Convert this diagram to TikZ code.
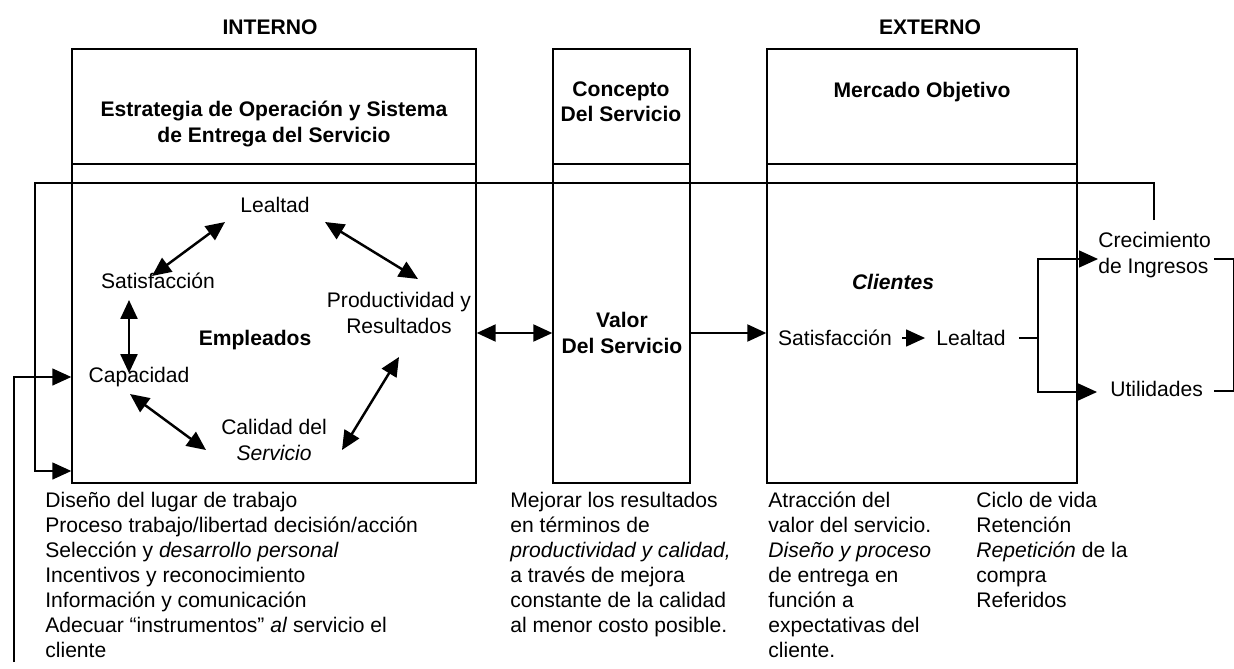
\documentclass[12pt,tikz,border=0pt]{standalone}
\usepackage{fontspec}
\setmainfont{Liberation Sans}
\usetikzlibrary{arrows.meta,positioning,fit,calc}

\begin{document}
\begin{tikzpicture}[x=0.02cm,y=-0.02cm,>={Triangle[length=0.38cm,width=0.34cm]},
  box/.style={draw,thick,inner sep=0pt},
  lbl/.style={align=center,inner sep=0pt},
  notes/.style={align=left,anchor=north west,inner sep=0pt,font=\fontsize{12}{14.2}\selectfont}]
\useasboundingbox (0,0) rectangle (1234,669);
\node[lbl,font=\bfseries] (interno) at (270,27) {INTERNO};
\node[lbl,font=\bfseries] (externo) at (930,27) {EXTERNO};
%%%%%%%%%%%%%%%%
\node[box,fit={(72,49) (476,483)}] (intbox) {};
\node[box,fit={(553,49) (690,483)}] (concbox) {};
\node[box,fit={(767,49) (1077,483)}] (mercbox) {};
\draw [thick] (intbox.west |- 0,164) -- (intbox.east |- 0,164);
\draw [thick] (concbox.west |- 0,164) -- (concbox.east |- 0,164);
\draw [thick] (mercbox.west |- 0,164) -- (mercbox.east |- 0,164);
\node[lbl,font=\bfseries] (estrategia) at (274,124)
{Estrategia de Operación y Sistema\\de Entrega del Servicio};
\node[lbl,font=\bfseries] (concepto) at (621,102) {Concepto\\Del Servicio};
\node[lbl,font=\bfseries] (mercado) at (922,92) {Mercado Objetivo};
%%%%%%%%%%%%%%%%
\node[lbl] (lealtad) at (275,205) {Lealtad};
\node[lbl] (satisf) at (158,281) {Satisfacción};
\node[lbl] (prod) at (399,313) {Productividad y\\Resultados};
\node[lbl,font=\bfseries] (empleados) at (255,340) {Empleados};
\node[lbl] (capac) at (139,377) {Capacidad};
\node[lbl] (calidad) at (274,440) {Calidad del\\\textit{Servicio}};
\draw [<->,line width=1.4pt] ($(satisf)+(-6,-5)$) -- ($(lealtad)+(-50,17)$);
\draw [<->,line width=1.4pt] ($(lealtad)+(50,17)$) -- ($(prod)+(19,-34)$);
\draw [<->,line width=1.4pt] ($(satisf)+(-29,19)$) -- ($(capac)+(-10,-4)$);
\draw [<->,line width=1.4pt] ($(capac)+(-9,17)$) -- ($(calidad)+(-68,10)$);
\draw [<->,line width=1.4pt] ($(calidad)+(68,10)$) -- ($(prod)+(0,44)$);
%%%%%%%%%%%%%%%%
\node[lbl,font=\bfseries] (valor) at (622,333) {Valor\\Del Servicio};
\draw [<->,very thick] (intbox.east |- valor) -- (concbox.west |- valor);
\draw [->,very thick] (concbox.east |- valor) -- (mercbox.west |- valor);
%%%%%%%%%%%%%%%%
\node[lbl,font=\bfseries\itshape] (clientes) at (893,282) {Clientes};
\node[lbl] (satcli) at (835,338) {Satisfacción};
\node[lbl] (lealcli) at (971,338) {Lealtad};
\draw [->,thick,shorten <=0.2cm,shorten >=0.22cm] (satcli) -- (lealcli);
\node[lbl,align=left,anchor=west] (crec) at (1098,255) {Crecimiento\\de Ingresos};
\node[lbl,anchor=west] (util) at (1110,389) {Utilidades};
\coordinate (split) at (1038,338);
\draw [thick,shorten <=0.26cm] (lealcli) -- (split);
\draw [thick,->] (split) |- ($(crec.west)+(0,4)$);
\draw [thick,->,shorten >=0.26cm] (split) |- ($(util.west)+(0,3)$);
\draw [thick] ($(crec.east)+(3,4)$) -- ++(20,0) |- ($(util.east)+(11,2)$);
%%%%%%%%%%%%%%%%
\coordinate (fbtop) at (1154,220);
\draw [thick,->] (fbtop) -- (1154,183) -- (35,183) -- (35,471) -- (intbox.west |- 0,471);
\coordinate (fbbot) at (14,662);
\draw [thick,->] (fbbot) -- (14,377) -- (intbox.west |- capac);
%%%%%%%%%%%%%%%%
\node[notes] (intnotes) at (45,492) {Diseño del lugar de trabajo\\
Proceso trabajo/libertad decisión/acción\\
Selección y \textit{desarrollo personal}\\
Incentivos y reconocimiento\\
Información y comunicación\\
Adecuar “instrumentos” \textit{al} servicio el\\
cliente};
\node[notes] (concnotes) at (510,492) {Mejorar los resultados\\
en términos de\\
\textit{productividad y calidad,}\\
a través de mejora\\
constante de la calidad\\
al menor costo posible.};
\node[notes] (mercnotes) at (768,492) {Atracción del\\
valor del servicio.\\
\textit{Diseño y proceso}\\
de entrega en\\
función a\\
expectativas del\\
cliente.};
\node[notes] (lealnotes) at (976,492) {Ciclo de vida\\
Retención\\
\textit{Repetición} de la\\
compra\\
Referidos};
\end{tikzpicture}
\end{document}
